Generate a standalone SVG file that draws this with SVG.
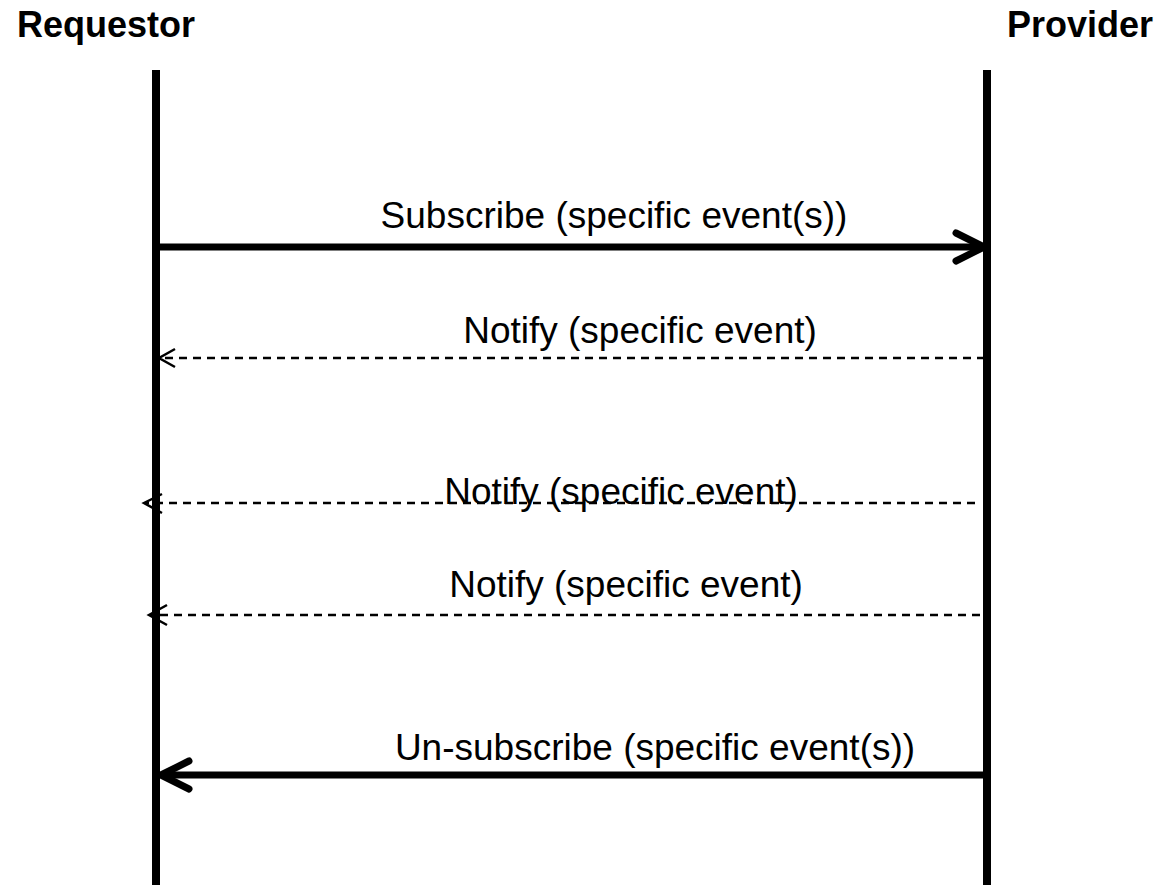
<svg xmlns="http://www.w3.org/2000/svg" width="1162" height="885" viewBox="0 0 1162 885">
<style>
.hdr{font-family:"Liberation Sans",Arial,sans-serif;font-weight:bold;font-size:36px;fill:#000}
.lbl{font-family:"Liberation Sans",Arial,sans-serif;font-size:37px;fill:#000;text-anchor:middle}
.life{stroke:#000;stroke-width:8;fill:none}
.solid{stroke:#000;stroke-width:7;fill:none}
.head{stroke:#000;stroke-width:7;fill:none;stroke-linecap:round;stroke-linejoin:round}
.dash{stroke:#000;stroke-width:2.5;fill:none;stroke-dasharray:8 6}
.ohead{stroke:#000;stroke-width:2.5;fill:none}
</style>
<rect width="1162" height="885" fill="#fff"/>
<g id="requestor">
<text class="hdr" x="17" y="37">Requestor</text>
<line class="life" x1="156" y1="70" x2="156" y2="885"/>
</g>
<g id="provider">
<text class="hdr" x="1007" y="37">Provider</text>
<line class="life" x1="987" y1="70" x2="987" y2="885"/>
</g>
<g id="connectors">
<line class="solid" x1="156" y1="247" x2="983" y2="247"/>
<polyline class="head" points="956,233 984,247 956,261"/>
<text class="lbl" x="614" y="228">Subscribe (specific event(s))</text>

<line class="dash" x1="985" y1="358" x2="160" y2="358"/>
<polyline class="ohead" points="175,349 159,358 175,367"/>
<text class="lbl" x="640" y="343">Notify (specific event)</text>

<line class="dash" x1="975" y1="503" x2="146" y2="503"/>
<polyline class="ohead" points="162,494 144,503 162,513"/>
<text class="lbl" x="621" y="504">Notify (specific event)</text>

<line class="dash" x1="980" y1="615" x2="150" y2="615"/>
<polyline class="ohead" points="167,605 149,615 167,625"/>
<text class="lbl" x="626" y="597">Notify (specific event)</text>

<line class="solid" x1="987" y1="775" x2="162" y2="775"/>
<polyline class="head" points="189,761 161,775 189,789"/>
<text class="lbl" x="655" y="760">Un-subscribe (specific event(s))</text>
</g>
</svg>
